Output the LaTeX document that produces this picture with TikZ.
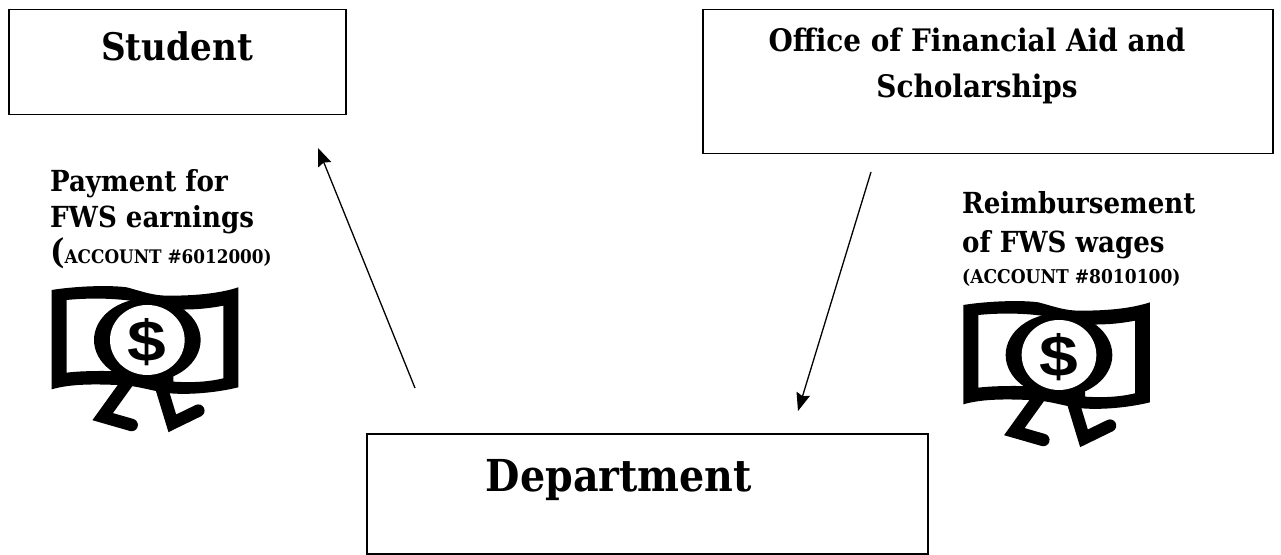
\documentclass[tikz,border=0pt]{standalone}
\usepackage{fontspec}
\usetikzlibrary{arrows.meta}
\setmainfont{DejaVu Serif Condensed}[BoldFont={DejaVu Serif Condensed Bold}]
\newfontfamily\dollarfont{Liberation Sans}[BoldFont={Liberation Sans Bold}]
\newcommand{\fsz}[2]{\fontsize{#1}{#2}\selectfont\bfseries}
\tikzset{
  box/.style={draw=black,line width=1.6pt,fill=white,inner sep=0pt,anchor=north west},
  title/.style={align=center,inner sep=0pt,anchor=base},
  caption/.style={align=left,inner sep=0pt,anchor=base west},
  flow/.style={line width=1.3pt,-{Stealth[length=18pt,width=14pt,inset=2.5pt]}},
  money/.pic={
    \begin{scope}[x=0.3333pt,y=-0.3333pt]
      \fill[even odd rule] (65,420) .. controls (140,408) and (240,405) .. (290,412)
        .. controls (340,425) and (370,438) .. (420,437)
        .. controls (500,437) and (570,430) .. (625,412) -- (625,712)
        .. controls (560,728) and (480,735) .. (420,730)
        .. controls (370,725) and (320,705) .. (260,705)
        .. controls (190,702) and (120,702) .. (65,718) -- cycle
        (110,450) .. controls (160,445) and (230,443) .. (300,452) -- (300,665)
        .. controls (230,662) and (160,662) .. (110,668) -- cycle
        (580,467) .. controls (530,477) and (480,480) .. (430,478) -- (430,695)
        .. controls (480,698) and (530,697) .. (580,685) -- cycle;
      \fill (352,570) ellipse [x radius=160,y radius=125];
      \fill[white] (352,570) ellipse [x radius=112,y radius=105];
      \draw[line width=12.5pt,line cap=round,miter limit=10] (290,700) -- (218,800) -- (305,825);
      \draw[line width=12.5pt,line cap=round,miter limit=10] (395,715) -- (427,820) -- (505,782);
      \node[inner sep=0pt,anchor=center,xscale=1.2,transform shape] at (352,576)
        {\dollarfont\fontsize{58}{58}\selectfont\bfseries\$};
    \end{scope}
  }
}
\begin{document}
\begin{tikzpicture}[x=1pt,y=-1pt]
  \useasboundingbox[fill=white] (0,0) rectangle (1281,554);
  \node[box,minimum width=337pt,minimum height=105pt] (student) at (8.2,8.8) {};
  \node[box,minimum width=570pt,minimum height=144pt] (office) at (702.2,8.5) {};
  \node[box,minimum width=561pt,minimum height=120pt] (dept) at (366.4,433.2) {};
  \node[title,font=\fsz{38}{44}] (studentlabel) at (177,60) {Student};
  \node[title,font=\fsz{31}{46}] (officelabel) at (977,97) {Office of Financial Aid and\\Scholarships};
  \node[title,font=\fsz{44}{50}] (deptlabel) at (619,491) {Department};
  \node[caption,font=\fsz{29}{36}] (paylabel) at (50,263) {Payment for\\FWS earnings\\{\fontsize{34}{36}\selectfont(}{\fontsize{18.7}{36}\selectfont ACCOUNT \#6012000)}};
  \node[caption,font=\fsz{29}{38.7}] (reimblabel) at (962,283) {Reimbursement\\of FWS wages\\[-7.7pt]{\fontsize{19}{30}\selectfont (ACCOUNT \#8010100)}};
  \pic (moneyleft) at (30,150) {money};
  \pic (moneyright) at (941.67,165) {money};
  \coordinate (s1) at (415,388);
  \coordinate (e1) at (318,148);
  \coordinate (s2) at (871,172);
  \coordinate (e2) at (798,411);
  \draw[flow] (s1) -- (e1);
  \draw[flow] (s2) -- (e2);
\end{tikzpicture}
\end{document}
